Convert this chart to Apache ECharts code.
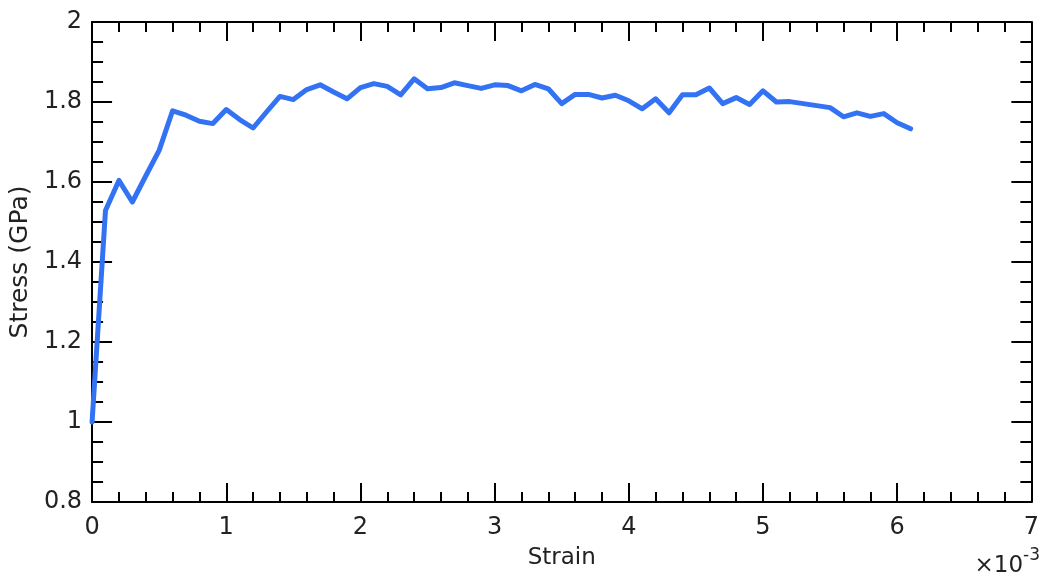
<!DOCTYPE html>
<html>
<head>
<meta charset="utf-8">
<script src="https://cdn.jsdelivr.net/npm/echarts@6/dist/echarts.min.js"></script>
<style>html,body{margin:0;padding:0;background:#fff}#c{width:1042px;height:576px}</style>
</head>
<body>
<div id="c"></div>
<script>
const strain = [0,0.1,0.2,0.3,0.4,0.5,0.6,0.7,0.8,0.9,1.0,1.1,1.2,1.3,1.4,1.5,1.6,1.7,1.8,1.9,2.0,2.1,2.2,2.3,2.4,2.5,2.6,2.7,2.8,2.9,3.0,3.1,3.2,3.3,3.4,3.5,3.6,3.7,3.8,3.9,4.0,4.1,4.2,4.3,4.4,4.5,4.6,4.7,4.8,4.9,5.0,5.1,5.2,5.3,5.4,5.5,5.6,5.7,5.8,5.9,6.0,6.1];
const stress = [1.0,1.529,1.604,1.55,1.615,1.679,1.778,1.767,1.752,1.746,1.781,1.756,1.735,1.775,1.814,1.806,1.831,1.843,1.825,1.808,1.836,1.846,1.839,1.818,1.858,1.833,1.836,1.848,1.841,1.834,1.843,1.841,1.828,1.844,1.833,1.796,1.819,1.819,1.81,1.817,1.803,1.783,1.808,1.773,1.818,1.818,1.835,1.796,1.811,1.794,1.828,1.80,1.801,1.796,1.791,1.786,1.763,1.773,1.764,1.771,1.748,1.733];
const xTicks = [0,1,2,3,4,5,6,7];
const yTicks = [0.8,1,1.2,1.4,1.6,1.8,2];

const data = strain.map((s, i) => [s, stress[i]]);
const font = 'DejaVu Sans, Liberation Sans, Arial, sans-serif';
const textColor = '#222';
const axisLine = {show: true, onZero: false, lineStyle: {color: '#000', width: 2}};
const majorX = {show: true, inside: true, length: 19, lineStyle: {color: '#000', width: 2}};
const minorX = {show: true, splitNumber: 5, length: 10, lineStyle: {color: '#000', width: 2}};
const majorY = {show: true, inside: true, length: 20, lineStyle: {color: '#000', width: 2}};
const minorY = {show: true, splitNumber: 4, length: 11, lineStyle: {color: '#000', width: 2}};
const chart = echarts.init(document.getElementById('c'), null, {renderer: 'canvas'});
const fmtY = v => (Math.abs(v - Math.round(v)) < 1e-9 ? String(Math.round(v)) : v.toFixed(1));
chart.setOption({
  animation: false,
  backgroundColor: '#fff',
  grid: {left: 90, right: 6, top: 22, bottom: 74, containLabel: false},
  xAxis: [{
    type: 'value', min: xTicks[0], max: xTicks[xTicks.length - 1], interval: 1, position: 'bottom',
    name: 'Strain', nameLocation: 'middle', nameGap: 45,
    nameTextStyle: {fontFamily: font, fontSize: 23, color: textColor},
    axisLine: axisLine, axisTick: majorX, minorTick: minorX,
    axisLabel: {fontFamily: font, fontSize: 24, color: textColor, margin: 14, showMaxLabel: true, showMinLabel: true},
    splitLine: {show: false}
  }, {
    type: 'value', min: xTicks[0], max: xTicks[xTicks.length - 1], interval: 1, position: 'top',
    axisLine: axisLine, axisTick: majorX, minorTick: minorX,
    axisLabel: {show: false}, splitLine: {show: false}
  }],
  yAxis: [{
    type: 'value', min: yTicks[0], max: yTicks[yTicks.length - 1], interval: 0.2, position: 'left',
    name: 'Stress (GPa)', nameLocation: 'middle', nameGap: 49,
    nameTextStyle: {fontFamily: font, fontSize: 25, color: textColor},
    axisLine: axisLine, axisTick: majorY, minorTick: minorY,
    axisLabel: {fontFamily: font, fontSize: 24, color: textColor, margin: 10, formatter: fmtY},
    splitLine: {show: false}
  }, {
    type: 'value', min: yTicks[0], max: yTicks[yTicks.length - 1], interval: 0.2, position: 'right',
    axisLine: axisLine, axisTick: majorY, minorTick: minorY,
    axisLabel: {show: false}, splitLine: {show: false}
  }],
  graphic: [{
    type: 'text', right: 2, bottom: -2,
    style: {
      text: '{a|×10}{b|-3}',
      rich: {
        a: {fontFamily: font, fontSize: 23, fill: textColor, verticalAlign: 'bottom'},
        b: {fontFamily: font, fontSize: 17, fill: textColor, verticalAlign: 'top', padding: [0, 0, 14, 0]}
      }
    }
  }],
  series: [{
    type: 'line', xAxisIndex: 0, yAxisIndex: 0, data: data,
    showSymbol: false, symbol: 'none',
    lineStyle: {color: '#3272f3', width: 5, join: 'round', cap: 'round'},
    z: 1
  }]
});
</script>
</body>
</html>
